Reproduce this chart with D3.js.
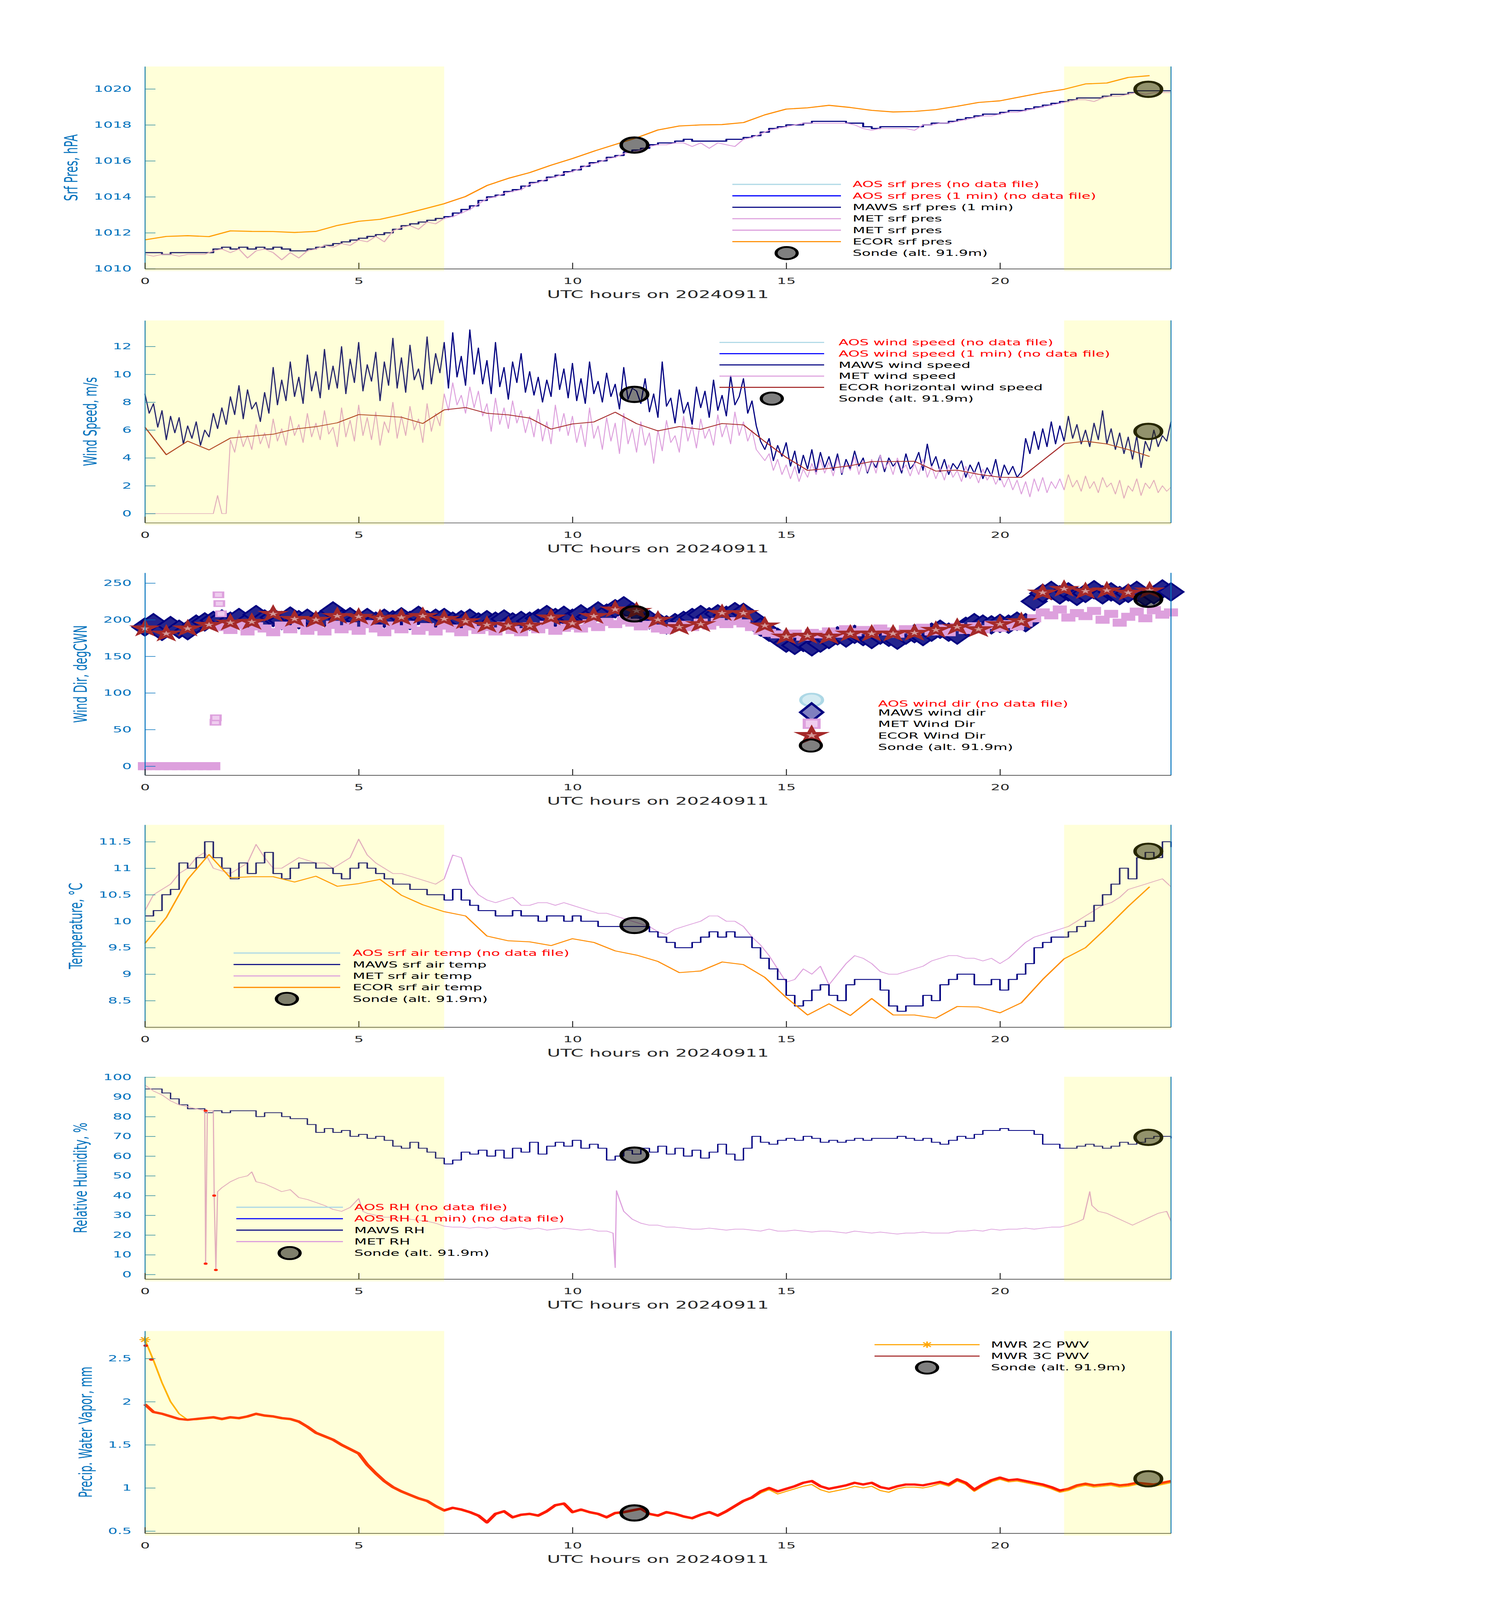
<!DOCTYPE html>
<html><head><meta charset="utf-8">
<script src="https://cdn.jsdelivr.net/npm/d3@7"></script>
<style>html,body{margin:0;padding:0;background:#fff;overflow:hidden}svg{display:block}text{font-family:"DejaVu Sans",sans-serif}</style>
</head><body>
<svg id="chart"></svg>
<script>
// ---------------- DATA ----------------
const xTicks = [0,5,10,15,20];
const shadeSpans = [[0,7],[21.5,24]];
const T02 = d3.range(121).map(i => +(i*0.2).toFixed(1));   // 0.2 h grid
const T01 = d3.range(241).map(i => +(i*0.1).toFixed(1));   // 0.1 h grid
const T05 = d3.range(48).map(i => i*0.5);                  // 30 min grid

const sondeT = [11.45, 23.47];

// Panel 1: surface pressure
const presTicks = [1010,1012,1014,1016,1018,1020];
const mawsPres = [1010.9,1010.9,1010.8,1010.9,1010.9,1010.9,1010.9,1010.9,1011.1,1011.2,
1011.1,1011.2,1011.1,1011.2,1011.1,1011.2,1011.1,1011.0,1011.0,1011.1,
1011.2,1011.3,1011.4,1011.5,1011.6,1011.7,1011.8,1011.9,1012.0,1012.2,
1012.4,1012.5,1012.6,1012.7,1012.8,1012.9,1013.1,1013.3,1013.5,1013.8,
1014.0,1014.1,1014.3,1014.4,1014.6,1014.8,1014.9,1015.1,1015.2,1015.4,
1015.5,1015.7,1015.9,1016.0,1016.2,1016.3,1016.5,1016.6,1016.7,1016.9,
1017.0,1017.0,1017.1,1017.2,1017.1,1017.1,1017.1,1017.1,1017.2,1017.2,
1017.3,1017.4,1017.6,1017.8,1017.9,1018.0,1018.0,1018.1,1018.2,1018.2,
1018.2,1018.2,1018.1,1018.1,1017.9,1017.8,1017.9,1017.9,1017.9,1017.9,
1017.9,1018.0,1018.1,1018.1,1018.2,1018.3,1018.4,1018.5,1018.6,1018.6,
1018.7,1018.8,1018.8,1018.9,1019.0,1019.1,1019.2,1019.3,1019.4,1019.5,
1019.5,1019.5,1019.6,1019.7,1019.7,1019.8,1019.9,1019.9,1019.9,1019.9,
1019.9];
const metPres = [1010.8,1010.7,1010.8,1010.8,1010.7,1010.8,1010.8,1010.8,1011.0,1011.1,
1010.9,1011.1,1010.6,1011.0,1011.1,1010.9,1010.5,1010.9,1010.6,1011.0,
1011.1,1011.3,1011.2,1011.4,1011.3,1011.6,1011.5,1011.8,1011.5,1012.1,
1012.3,1012.4,1012.2,1012.6,1012.5,1012.8,1012.9,1013.1,1013.3,1013.6,
1013.9,1014.0,1014.2,1014.3,1014.4,1014.7,1014.8,1015.0,1015.1,1015.3,
1015.4,1015.6,1015.8,1015.9,1016.1,1016.2,1016.4,1016.5,1016.6,1016.8,
1016.9,1016.9,1017.0,1017.0,1016.8,1017.0,1016.7,1017.0,1016.9,1016.8,
1017.2,1017.3,1017.5,1017.7,1017.8,1017.9,1018.0,1018.1,1018.1,1018.1,
1018.1,1018.1,1018.1,1018.0,1017.8,1017.7,1017.8,1017.8,1017.8,1017.8,
1017.7,1018.0,1018.0,1018.1,1018.1,1018.2,1018.3,1018.4,1018.5,1018.5,
1018.6,1018.7,1018.7,1018.8,1018.9,1019.0,1019.1,1019.2,1019.3,1019.4,
1019.4,1019.3,1019.5,1019.6,1019.6,1019.7,1019.8,1019.7,1019.8,1019.8,
1019.8];
const ecorPres = [1011.61,1011.80,1011.84,1011.79,1012.11,1012.08,1012.07,1012.02,1012.08,1012.41,
1012.64,1012.75,1013.01,1013.31,1013.62,1014.02,1014.63,1015.03,1015.35,1015.76,
1016.13,1016.54,1016.91,1017.28,1017.72,1017.94,1018.00,1018.02,1018.13,1018.56,
1018.88,1018.95,1019.09,1018.97,1018.81,1018.72,1018.75,1018.85,1019.04,1019.25,
1019.34,1019.57,1019.80,1019.98,1020.28,1020.33,1020.64,1020.74];
const sondePres = [1016.88, 1019.98];

// Panel 2: wind speed
const wspdTicks = [0,2,4,6,8,10,12];
const mawsWspd = [8.6,7.2,7.9,6.2,7.4,5.3,7.0,5.8,6.9,5.0,
6.3,5.4,6.6,4.9,6.0,5.5,7.2,6.1,7.6,6.4,
8.4,7.1,9.2,6.8,8.9,7.5,8.0,6.6,8.7,7.2,
10.5,7.8,9.6,8.1,10.9,8.4,9.8,7.9,11.4,8.8,
10.2,8.3,11.8,8.9,10.6,9.0,12.0,8.6,11.1,9.4,
12.3,8.8,10.7,9.5,11.6,8.1,10.9,9.2,12.6,9.0,
11.2,8.7,12.1,9.6,10.4,8.9,12.7,9.3,11.5,10.1,
12.3,9.0,13.0,9.8,11.3,9.2,13.2,10.0,11.9,9.3,
11.0,8.6,12.3,9.1,10.5,8.2,10.9,9.4,11.5,8.7,
10.2,8.5,9.8,8.0,9.6,8.4,11.5,8.9,10.4,8.3,
10.8,8.1,9.7,7.9,10.9,8.6,9.5,8.0,10.1,8.4,
9.3,7.5,10.5,8.2,9.0,8.8,7.9,9.7,7.3,8.6,
6.9,10.9,7.7,8.3,6.5,8.9,7.2,8.0,6.4,9.1,
7.6,8.8,6.9,9.6,7.4,8.5,7.0,9.9,7.8,8.4,
9.7,7.2,8.1,6.3,5.2,4.6,5.4,3.8,4.9,4.1,
5.1,3.4,4.5,2.9,4.2,3.2,4.6,3.0,4.4,3.3,
4.1,3.1,4.3,2.8,3.9,3.2,4.5,3.4,4.0,2.9,
3.8,3.3,4.2,3.0,4.0,3.4,3.8,2.9,4.3,3.2,
3.6,4.4,3.1,5.0,3.4,4.1,3.0,3.9,2.8,3.6,
3.2,3.8,2.6,3.5,2.9,3.7,2.5,3.3,2.7,3.9,
2.4,3.5,2.8,3.4,2.6,3.0,5.4,4.3,5.9,4.6,
6.1,4.8,6.6,5.0,6.3,5.2,7.0,5.4,6.4,5.0,
6.0,4.8,6.5,5.3,7.4,5.0,6.1,4.6,5.8,4.3,
5.5,3.9,5.6,3.3,5.2,4.5,6.0,4.8,5.6,5.2,
6.6];
const metWspd = [0,0,0,0,0,0,0,0,0,0,
0,0,0,0,0,0,0,1.3,0,0,
5.3,4.4,6.0,4.8,5.6,4.6,6.4,5.0,5.8,4.7,
6.8,5.2,6.1,4.9,7.0,5.6,6.4,5.1,7.2,5.5,
6.5,5.3,7.4,5.7,6.2,4.8,7.6,5.5,6.7,5.2,
7.8,5.6,6.9,5.3,7.3,4.9,6.6,5.8,8.0,5.4,
7.0,5.6,7.7,6.0,6.8,5.1,7.9,5.9,7.2,6.3,
8.6,7.4,9.4,7.8,8.5,7.2,9.1,7.6,8.8,7.0,
7.9,5.9,8.3,6.4,7.6,6.1,8.1,6.5,7.4,5.8,
7.0,5.5,7.5,5.2,6.6,5.0,7.8,5.9,7.2,5.6,
7.0,5.1,6.4,4.8,7.6,5.4,6.3,4.6,6.9,5.2,
6.5,4.3,7.2,5.0,6.1,4.4,6.6,4.9,5.8,3.6,
6.0,4.5,6.7,5.1,5.6,4.4,7.0,5.2,6.3,4.7,
6.8,5.4,6.1,4.9,7.1,5.5,6.4,5.0,7.3,5.6,
6.6,5.2,6.0,4.6,4.2,3.8,4.3,3.1,3.9,2.8,
3.5,2.5,3.4,2.3,3.2,2.6,3.6,2.8,3.9,2.9,
3.7,2.7,4.0,2.9,3.6,3.1,4.1,2.8,3.8,3.0,
3.9,2.9,4.2,3.2,3.7,2.8,4.0,3.1,3.5,2.7,
3.6,2.8,3.9,2.6,3.4,2.5,3.3,2.4,3.5,2.6,
3.1,2.3,3.4,2.5,3.0,2.2,3.2,2.4,2.9,2.1,
2.7,1.9,2.6,1.7,2.4,1.4,2.3,1.2,2.5,1.6,
2.6,1.5,2.3,1.8,2.5,1.7,2.8,1.9,2.4,1.6,
2.7,1.8,2.3,1.5,2.6,1.9,2.2,1.4,2.4,1.1,
2.0,1.6,2.5,1.3,2.2,1.8,2.4,1.5,2.0,1.6,
1.9];
const ecorWspd = [6.21,4.23,5.2,4.57,5.42,5.56,5.70,6.07,6.24,6.52,
7.11,7.03,6.92,6.47,7.45,7.62,7.2,7.09,6.86,6.07,
6.44,6.58,7.28,6.46,5.94,6.25,6.05,6.47,6.37,5.17,
4.04,3.10,3.25,3.44,3.74,3.74,3.76,3.05,3.12,2.82,
2.61,2.60,3.81,5.02,5.2,5.0,4.6,4.1];
const sondeWspd = [8.56, 5.9];

// Panel 3: wind direction
const wdirTicks = [0,50,100,150,200,250];
const mawsWdir = [190,196,184,192,187,185,194,197,199,201,
198,203,197,207,201,203,199,205,200,202,
198,203,212,201,204,200,203,198,202,200,
204,199,206,200,202,203,198,200,202,197,
200,198,201,197,199,198,202,207,203,206,
202,208,204,212,209,215,219,211,205,200,
197,193,196,199,203,207,204,208,206,211,
210,202,190,183,176,168,165,169,163,168,
173,178,175,180,177,173,179,176,172,179,
181,177,183,187,183,179,191,196,194,193,
195,194,198,196,225,236,240,234,238,232,
236,241,234,238,233,236,240,231,234,242,
238];
const metWdir = [0,0,0,0,0,0,0,0,0,190,
186,193,184,191,188,183,192,187,195,185,
190,184,193,187,191,185,194,188,183,192,
187,193,185,190,184,192,188,183,191,186,
190,184,192,186,183,191,187,193,185,189,
192,188,195,190,197,194,199,196,191,193,
188,186,191,193,190,196,192,197,194,198,
195,190,185,182,180,178,181,177,182,180,
184,181,187,183,186,182,188,184,181,187,
185,189,184,188,183,190,186,191,187,193,
189,194,191,196,202,210,206,214,203,209,
205,212,200,208,196,204,211,202,213,207,
210];
const metWdirSpikeT = [1.65,1.66,1.72,1.74,1.78];
const metWdirSpikeV = [60,66,234,222,208];
const ecorWdir = [188,181,188,193,196,197,208,201,200,205,
204,202,203,205,201,198,193,192,192,203,
195,205,214,212,200,190,194,209,209,192,
177,178,177,181,181,181,182,186,190,187,
194,198,237,242,239,240,237,240];
const sondeWdir = [208, 228];

// Panel 4: temperature
const tempTicks = [8.5,9,9.5,10,10.5,11,11.5];
const mawsTemp = [10.1,10.2,10.5,10.6,11.1,11.0,11.2,11.5,11.2,11.0,
10.8,11.1,10.9,11.1,11.3,10.9,10.8,11.0,11.1,11.1,
11.0,11.0,10.9,10.8,11.0,11.1,11.0,10.9,10.8,10.7,
10.7,10.6,10.6,10.5,10.5,10.4,10.6,10.4,10.3,10.2,
10.2,10.1,10.1,10.2,10.1,10.1,10.0,10.1,10.1,10.0,
10.1,10.0,10.0,9.9,9.9,9.9,9.9,9.9,9.9,9.8,
9.7,9.6,9.5,9.5,9.6,9.7,9.8,9.7,9.8,9.7,
9.7,9.5,9.3,9.1,8.9,8.6,8.4,8.5,8.7,8.8,
8.6,8.5,8.8,8.9,8.9,8.9,8.7,8.4,8.3,8.4,
8.4,8.6,8.5,8.8,8.9,9.0,9.0,8.8,8.8,8.9,
8.7,8.9,9.0,9.2,9.5,9.6,9.7,9.7,9.8,9.9,
10.0,10.3,10.5,10.7,11.0,10.8,11.2,11.3,11.2,11.5,
11.4];
const metTemp = [10.2,10.5,10.6,10.7,10.9,11.0,11.2,11.3,11.0,10.95,
10.9,11.0,11.1,11.45,11.2,11.0,11.0,11.1,11.2,11.15,
11.1,11.1,11.0,11.1,11.2,11.55,11.25,11.1,11.0,10.9,
10.9,10.85,10.8,10.75,10.7,10.8,11.25,11.2,10.7,10.5,
10.4,10.35,10.4,10.45,10.3,10.3,10.35,10.35,10.3,10.35,
10.3,10.25,10.2,10.15,10.15,10.1,10.05,10.0,9.95,9.9,
9.8,9.75,9.85,9.9,9.95,10.0,10.1,10.1,10.0,10.0,
9.9,9.7,9.55,9.35,9.1,8.85,8.9,9.1,9.0,9.15,
8.8,9.0,9.2,9.35,9.3,9.2,9.05,9.0,9.0,9.05,
9.1,9.15,9.25,9.3,9.35,9.35,9.3,9.3,9.25,9.3,
9.2,9.3,9.45,9.6,9.7,9.75,9.8,9.85,9.9,10.0,
10.1,10.2,10.3,10.35,10.45,10.6,10.65,10.7,10.75,10.8,
10.65];
const ecorTemp = [9.58,10.07,10.79,11.26,10.82,10.84,10.84,10.74,10.85,10.66,
10.71,10.79,10.49,10.31,10.18,10.1,9.72,9.63,9.61,9.54,
9.67,9.6,9.44,9.36,9.24,9.03,9.06,9.23,9.18,8.94,
8.56,8.23,8.44,8.22,8.54,8.23,8.23,8.17,8.39,8.38,
8.27,8.46,8.90,9.29,9.5,9.88,10.28,10.65];
const sondeTemp = [9.92, 11.32];

// Panel 5: relative humidity
const rhTicks = [0,10,20,30,40,50,60,70,80,90,100];
const mawsRH = [94,94,92,89,86,84,84,82,83,82,
83,83,83,80,82,82,80,79,79,76,
72,74,72,73,70,71,69,70,68,65,
64,67,64,62,59,56,58,62,61,63,
60,63,59,64,62,67,61,65,67,65,
68,64,66,64,58,60,63,61,64,62,
65,61,64,60,63,59,62,66,61,58,
64,70,67,66,68,69,68,70,69,67,
68,67,68,69,68,69,69,69,70,69,
68,69,67,66,68,70,69,71,73,73,
74,73,73,73,71,66,66,64,64,65,
66,65,64,65,67,66,67,69,70,70,
69];
const metRHT = [0,0.2,0.4,0.6,0.8,1.0,1.2,1.4,1.42,1.46,1.6,1.62,1.66,1.7,1.8,
2.0,2.2,2.4,2.5,2.6,2.8,3.0,3.2,3.4,3.6,3.8,4.0,4.2,4.4,4.6,4.8,
5.0,5.1,5.2,5.4,5.6,5.8,6.0,6.2,6.4,6.6,6.8,7.0,7.2,7.4,7.6,7.8,
8.0,8.2,8.4,8.6,8.8,9.0,9.2,9.4,9.6,9.8,10.0,10.2,10.4,10.6,10.8,
10.95,11.0,11.03,11.1,11.2,11.4,11.6,11.8,12.0,12.2,12.4,12.6,12.8,
13.0,13.2,13.4,13.6,13.8,14.0,14.2,14.4,14.6,14.8,15.0,15.2,15.4,15.6,15.8,
16.0,16.2,16.4,16.6,16.8,17.0,17.2,17.4,17.6,17.8,18.0,18.2,18.4,18.6,18.8,
19.0,19.2,19.4,19.6,19.8,20.0,20.2,20.4,20.6,20.8,21.0,21.2,21.4,21.6,21.8,
21.95,22.1,22.15,22.3,22.5,22.7,22.9,23.1,23.3,23.5,23.7,23.9,24.0];
const metRHV = [96,93,91,88,86,85,84,83,5.5,83,83,40,2.3,42,44,
47,49,50,52,47,46,44,42,43,39,38,36.5,35,33,32,34,
38.5,32,31,30,29,29,28.5,28,27.5,27,26,24.5,24,24,23.5,24,
23.5,24,23,23.5,24,23,23.5,22.5,23,23.5,23,22.5,23,22,22,
21,3.5,42.5,38,32,28,26,25,25,24,24,23.5,23,
23,23.5,23,22.5,23,23,22.5,22,23,22,22,22.5,22,21.5,22,
22,21.5,21,22,21.5,21,21.5,21,20.5,21,21,21.5,21,21,21,
22,22,22.5,22,23,22.5,23,23,23.5,23,23.5,24,24,25,26.5,
28,42,35,32,31,29,27,25,27,29,31,32,27];
const metRHFlagT = [1.42,1.42,1.62,1.66];
const metRHFlagV = [83,5.5,40,2.3];
const sondeRH = [60.5, 69.5];

// Panel 6: precipitable water vapor
const pwvTicks = [0.5,1,1.5,2,2.5];
const mwr2c = [2.72,2.48,2.22,2.00,1.86,1.79,1.79,1.80,1.81,1.79,
1.81,1.80,1.82,1.85,1.83,1.82,1.80,1.79,1.76,1.70,
1.63,1.59,1.55,1.49,1.44,1.39,1.26,1.16,1.07,1.00,
0.95,0.91,0.87,0.84,0.78,0.73,0.76,0.74,0.71,0.67,
0.60,0.69,0.72,0.65,0.68,0.69,0.67,0.72,0.79,0.81,
0.71,0.74,0.71,0.69,0.65,0.70,0.71,0.73,0.75,0.69,
0.67,0.71,0.69,0.66,0.64,0.68,0.71,0.67,0.72,0.78,
0.84,0.88,0.94,0.98,0.93,0.96,0.99,1.02,1.04,0.98,
0.95,0.97,0.99,1.02,1.00,1.02,0.97,0.95,0.99,1.01,
1.01,1.00,1.02,1.05,1.02,1.08,1.04,0.96,1.02,1.07,
1.10,1.07,1.08,1.06,1.04,1.02,0.99,0.95,0.97,1.01,
1.03,1.01,1.02,1.03,1.01,1.02,1.04,1.03,1.02,1.04,
1.06];
const mwr3c = [1.97,1.88,1.86,1.83,1.80,1.79,1.80,1.81,1.82,1.80,
1.82,1.81,1.83,1.86,1.84,1.83,1.81,1.80,1.77,1.71,
1.64,1.60,1.56,1.50,1.45,1.40,1.27,1.17,1.08,1.01,
0.96,0.92,0.88,0.85,0.79,0.74,0.77,0.75,0.72,0.68,
0.60,0.70,0.73,0.66,0.69,0.70,0.68,0.73,0.80,0.82,
0.72,0.75,0.72,0.70,0.66,0.71,0.72,0.74,0.76,0.70,
0.68,0.72,0.70,0.67,0.65,0.69,0.72,0.68,0.73,0.79,
0.85,0.89,0.96,1.00,0.96,0.99,1.02,1.06,1.08,1.02,
0.99,1.01,1.03,1.06,1.04,1.06,1.01,0.99,1.02,1.04,
1.04,1.03,1.05,1.07,1.04,1.10,1.06,0.98,1.04,1.09,
1.12,1.09,1.10,1.08,1.06,1.04,1.01,0.97,0.99,1.03,
1.05,1.03,1.04,1.05,1.03,1.04,1.06,1.05,1.04,1.06,
1.08];
const mwr3cOutT = [0.02, 0.15];
const mwr3cOutV = [2.65, 2.49];
const sondePWV = [0.71, 1.106];

// ---------------- DRAWING ----------------
// Figure is laid out in a 3825 x 7125 coordinate system; the viewBox maps it onto
// the available window so the whole figure is always visible.
const W = 3825, H = 7125;
const viewH = Math.min(H, window.innerHeight || H);
const svg = d3.select('#chart').attr('width', W).attr('height', viewH)
  .attr('viewBox', `0 0 ${W} ${H}`).attr('preserveAspectRatio', 'none');
svg.append('rect').attr('width', W).attr('height', H).attr('fill', '#fff');

const X0 = 371, X1 = 2998, PH = 901;
const TOPS = [296, 1427, 2551, 3673, 4795, 5927];
const x = d3.scaleLinear().domain([0, 24]).range([X0, X1]);
const BLUE = '#0072bd', DARK = '#262626';
const NAVY = '#000080', PLUM = '#dda0dd', LBLUE = '#add8e6', ABLUE = '#0000ff',
      DORANGE = '#ff8c00', ORANGE = '#ffa500', BROWN = '#a52a2a';

function makePanel(i, domain, ticks, label) {
  const top = TOPS[i], bot = top + PH;
  const y = d3.scaleLinear().domain(domain).range([bot, top]);
  const g = svg.append('g');
  return { top, bot, y, ticks, label,
    data: g.append('g'), axes: g.append('g'), shade: g.append('g'), leg: g.append('g') };
}
function drawLine(p, ts, vs, color, width, step) {
  const line = d3.line().x(d => x(d[0])).y(d => p.y(d[1]));
  if (step) line.curve(d3.curveStepAfter);
  p.data.append('path').datum(d3.zip(ts, vs)).attr('d', line)
    .attr('fill', 'none').attr('stroke', color).attr('stroke-width', width)
    .attr('stroke-linejoin', 'round');
}
function drawDots(p, ts, vs, color, r) {
  p.data.append('g').selectAll('circle').data(d3.zip(ts, vs)).join('circle')
    .attr('cx', d => x(d[0])).attr('cy', d => p.y(d[1])).attr('r', r).attr('fill', color);
}
function sondeStyle(sel, r) {
  sel.attr('r', r).attr('fill', '#000').attr('fill-opacity', 0.5)
     .attr('stroke', '#000').attr('stroke-width', r > 30 ? 9 : 8);
}
function drawSonde(p, vs) {
  p.data.append('g').selectAll('circle').data(d3.zip(sondeT, vs)).join('circle')
    .attr('cx', d => x(d[0])).attr('cy', d => p.y(d[1])).call(sondeStyle, 34);
}
const diamondPath = (w, h) => `M0,${-h/2}L${w/2},0L0,${h/2}L${-w/2},0Z`;
const squarePath = s => `M${-s/2},${-s/2}h${s}v${s}h${-s}Z`;
function starPath(R) {
  const pts = [];
  for (let i = 0; i < 10; i++) {
    const a = -Math.PI / 2 + i * Math.PI / 5, rr = i % 2 ? R * 0.382 : R;
    pts.push([(rr * Math.cos(a)).toFixed(2), (rr * Math.sin(a)).toFixed(2)]);
  }
  return 'M' + pts.join('L') + 'Z';
}
function drawMarkers(p, ts, vs, path, fill, stroke, sw) {
  p.data.append('g').selectAll('path').data(d3.zip(ts, vs)).join('path')
    .attr('d', path).attr('transform', d => `translate(${x(d[0])},${p.y(d[1])})`)
    .attr('fill', fill).attr('stroke', stroke).attr('stroke-width', sw).attr('stroke-linejoin', 'miter');
}
function drawStars(g, pts, R) {
  const s = g.append('g').selectAll('g').data(pts).join('g')
    .attr('transform', d => `translate(${d[0]},${d[1]})`);
  s.append('path').attr('d', starPath(R)).attr('fill', BROWN).attr('stroke', BROWN).attr('stroke-width', 3);
  s.append('path').attr('d', starPath(R * 0.34)).attr('fill', '#d49a9a');
}

function finishAxes(p, shaded) {
  const a = p.axes;
  const gy = a.append('g').attr('transform', `translate(${X0},0)`)
    .call(d3.axisLeft(p.y).tickValues(p.ticks).tickSize(-27).tickSizeOuter(0).tickPadding(34).tickFormat(d => String(d)));
  gy.attr('font-size', null).attr('font-family', null);
  gy.select('.domain').attr('stroke', BLUE).attr('stroke-width', 2.5);
  gy.selectAll('.tick line').attr('stroke', BLUE).attr('stroke-width', 2.5);
  gy.selectAll('.tick text').attr('fill', BLUE).style('font-size', '38px');
  a.append('line').attr('x1', X1).attr('x2', X1).attr('y1', p.top).attr('y2', p.bot)
    .attr('stroke', BLUE).attr('stroke-width', 2.5);
  const gx = a.append('g').attr('transform', `translate(0,${p.bot})`)
    .call(d3.axisBottom(x).tickValues(xTicks).tickSize(-27).tickSizeOuter(0).tickPadding(40));
  gx.attr('font-size', null).attr('font-family', null);
  gx.select('.domain').attr('stroke', DARK).attr('stroke-width', 2.5);
  gx.selectAll('.tick line').attr('stroke', DARK).attr('stroke-width', 2.5);
  gx.selectAll('.tick text').attr('fill', DARK).style('font-size', '38px');
  a.append('text').attr('x', (X0 + X1) / 2).attr('y', p.bot + 131).attr('text-anchor', 'middle')
    .attr('fill', DARK).style('font-size', '47px').text('UTC hours on 20240911');
  const maxW = d3.max(gy.selectAll('.tick text').nodes(), n => n.getComputedTextLength());
  const bx = X0 - 34 - maxW - 42;
  a.append('text').attr('transform', `translate(${bx},${(p.top + p.bot) / 2}) rotate(-90)`)
    .attr('text-anchor', 'middle').attr('fill', BLUE).style('font-size', '47px').text(p.label);
  if (shaded) {
    p.shade.selectAll('rect').data(shadeSpans).join('rect')
      .attr('x', d => x(d[0])).attr('width', d => x(d[1]) - x(d[0]))
      .attr('y', p.top).attr('height', PH + 10)
      .attr('fill', '#ffff00').attr('fill-opacity', 0.15);
  }
}
function lineLegend(p, x1, x2, tx, y0, dy, rows) {
  rows.forEach((r, i) => {
    const yy = y0 + dy * i;
    if (r.sonde) {
      p.leg.append('circle').attr('cx', (x1 + x2) / 2).attr('cy', yy).call(sondeStyle, 27);
    } else {
      p.leg.append('line').attr('x1', x1).attr('x2', x2).attr('y1', yy).attr('y2', yy)
        .attr('stroke', r.color).attr('stroke-width', 5);
      if (r.asterisk) {
        const cx = (x1 + x2) / 2;
        [0, 45, 90, 135].forEach(ang => p.leg.append('line')
          .attr('x1', cx - 14).attr('x2', cx + 14).attr('y1', yy).attr('y2', yy)
          .attr('transform', `rotate(${ang},${cx},${yy})`)
          .attr('stroke', r.color).attr('stroke-width', 4));
      }
    }
    p.leg.append('text').attr('x', tx).attr('y', yy + 13).attr('fill', r.red ? '#ff0000' : '#000')
      .style('font-size', '37px').text(r.label);
  });
}

// ---- Panel 1
const p1 = makePanel(0, [1010, 1021.25], presTicks, 'Srf Pres, hPA');
drawLine(p1, T02, mawsPres, NAVY, 5, true);
drawLine(p1, T02, metPres, PLUM, 3.5);
drawLine(p1, T05, ecorPres, DORANGE, 4.5);
drawSonde(p1, sondePres);
finishAxes(p1, true);
lineLegend(p1, 1875, 2153, 2183, 821, 51, [
  {label: 'AOS srf pres (no data file)', color: LBLUE, red: true},
  {label: 'AOS srf pres (1 min) (no data file)', color: ABLUE, red: true},
  {label: 'MAWS srf pres (1 min)', color: NAVY},
  {label: 'MET srf pres', color: PLUM},
  {label: 'MET srf pres', color: PLUM},
  {label: 'ECOR srf pres', color: DORANGE},
  {label: 'Sonde (alt. 91.9m)', sonde: true}]);

// ---- Panel 2
const p2 = makePanel(1, [-0.66, 13.87], wspdTicks, 'Wind Speed, m/s');
drawLine(p2, T01, mawsWspd, NAVY, 3);
drawLine(p2, T01, metWspd, PLUM, 2.5);
drawLine(p2, T05, ecorWspd, BROWN, 3.5);
drawSonde(p2, sondeWspd);
finishAxes(p2, true);
lineLegend(p2, 1842, 2110, 2147, 1525, 50, [
  {label: 'AOS wind speed (no data file)', color: LBLUE, red: true},
  {label: 'AOS wind speed (1 min) (no data file)', color: ABLUE, red: true},
  {label: 'MAWS wind speed', color: NAVY},
  {label: 'MET wind speed', color: PLUM},
  {label: 'ECOR horizontal wind speed', color: BROWN},
  {label: 'Sonde (alt. 91.9m)', sonde: true}]);

// ---- Panel 3
const p3 = makePanel(2, [-12.3, 264], wdirTicks, 'Wind Dir, degCWN');
drawMarkers(p3, T02, mawsWdir, diamondPath(64, 78), '#24248e', NAVY, 6);
drawMarkers(p3, T02, metWdir, squarePath(30), '#dda0dd', PLUM, 6);
drawMarkers(p3, metWdirSpikeT, metWdirSpikeV, squarePath(24), '#efcdef', PLUM, 6);
drawStars(p3.data, d3.zip(T05, ecorWdir).map(d => [x(d[0]), p3.y(d[1])]), 38);
drawSonde(p3, sondeWdir);
finishAxes(p3, false);
(function () {
  const mx = 2078, rows = [3117, 3172, 3223, 3275, 3320], tby = [3146, 3186, 3238, 3290, 3340];
  const L = p3.leg;
  L.append('circle').attr('cx', mx).attr('cy', rows[0]).attr('r', 28)
    .attr('fill', '#d4ebf2').attr('stroke', LBLUE).attr('stroke-width', 8);
  L.append('path').attr('d', diamondPath(58, 80)).attr('transform', `translate(${mx},${rows[1]})`)
    .attr('fill', '#7f7fbf').attr('stroke', NAVY).attr('stroke-width', 8);
  L.append('path').attr('d', squarePath(38)).attr('transform', `translate(${mx},${rows[2]})`)
    .attr('fill', '#efcdef').attr('stroke', PLUM).attr('stroke-width', 8);
  drawStars(L, [[mx, rows[3]]], 44);
  L.append('circle').attr('cx', mx - 2).attr('cy', rows[4]).call(sondeStyle, 27);
  const labels = ['AOS wind dir (no data file)', 'MAWS wind dir', 'MET Wind Dir', 'ECOR Wind Dir', 'Sonde (alt. 91.9m)'];
  labels.forEach((t, i) => L.append('text').attr('x', 2248).attr('y', tby[i])
    .attr('fill', i === 0 ? '#ff0000' : '#000').style('font-size', '37px').text(t));
})();

// ---- Panel 4
const p4 = makePanel(3, [8.0, 11.82], tempTicks, 'Temperature, °C');
drawLine(p4, T02, metTemp, PLUM, 3);
drawLine(p4, T02, mawsTemp, NAVY, 4, true);
drawLine(p4, T05, ecorTemp, DORANGE, 4);
drawSonde(p4, sondeTemp);
finishAxes(p4, true);
lineLegend(p4, 598, 871, 903, 4244, 51, [
  {label: 'AOS srf air temp (no data file)', color: LBLUE, red: true},
  {label: 'MAWS srf air temp', color: NAVY},
  {label: 'MET srf air temp', color: PLUM},
  {label: 'ECOR srf air temp', color: DORANGE},
  {label: 'Sonde (alt. 91.9m)', sonde: true}]);

// ---- Panel 5
const p5 = makePanel(4, [-2.33, 100.2], rhTicks, 'Relative Humidity, %');
drawLine(p5, T02, mawsRH, NAVY, 3.5, true);
drawLine(p5, metRHT, metRHV, PLUM, 3);
drawDots(p5, metRHFlagT, metRHFlagV, '#ff0000', 5);
drawSonde(p5, sondeRH);
finishAxes(p5, true);
lineLegend(p5, 605, 878, 907, 5376, 51, [
  {label: 'AOS RH (no data file)', color: LBLUE, red: true},
  {label: 'AOS RH (1 min) (no data file)', color: ABLUE, red: true},
  {label: 'MAWS RH', color: NAVY},
  {label: 'MET RH', color: PLUM},
  {label: 'Sonde (alt. 91.9m)', sonde: true}]);

// ---- Panel 6
const p6 = makePanel(5, [0.474, 2.82], pwvTicks, 'Precip. Water Vapor, mm');
drawLine(p6, T02, mwr2c, ORANGE, 4.5);
p6.data.append('g').selectAll('g').data([[T02[0], mwr2c[0]]]).join('g')
  .attr('transform', d => `translate(${x(d[0])},${p6.y(d[1])})`)
  .each(function () {
    [0, 45, 90, 135].forEach(ang => d3.select(this).append('line')
      .attr('x1', -14).attr('x2', 14).attr('transform', `rotate(${ang})`)
      .attr('stroke', ORANGE).attr('stroke-width', 4));
  });
drawLine(p6, T02, mwr3c, '#ff1a00', 10);
drawDots(p6, mwr3cOutT, mwr3cOutV, '#ff0000', 6);
drawSonde(p6, sondePWV);
finishAxes(p6, true);
lineLegend(p6, 2239, 2508, 2537, 5988, 51, [
  {label: 'MWR 2C PWV', color: ORANGE, asterisk: true},
  {label: 'MWR 3C PWV', color: BROWN},
  {label: 'Sonde (alt. 91.9m)', sonde: true}]);
</script>
</body></html>
